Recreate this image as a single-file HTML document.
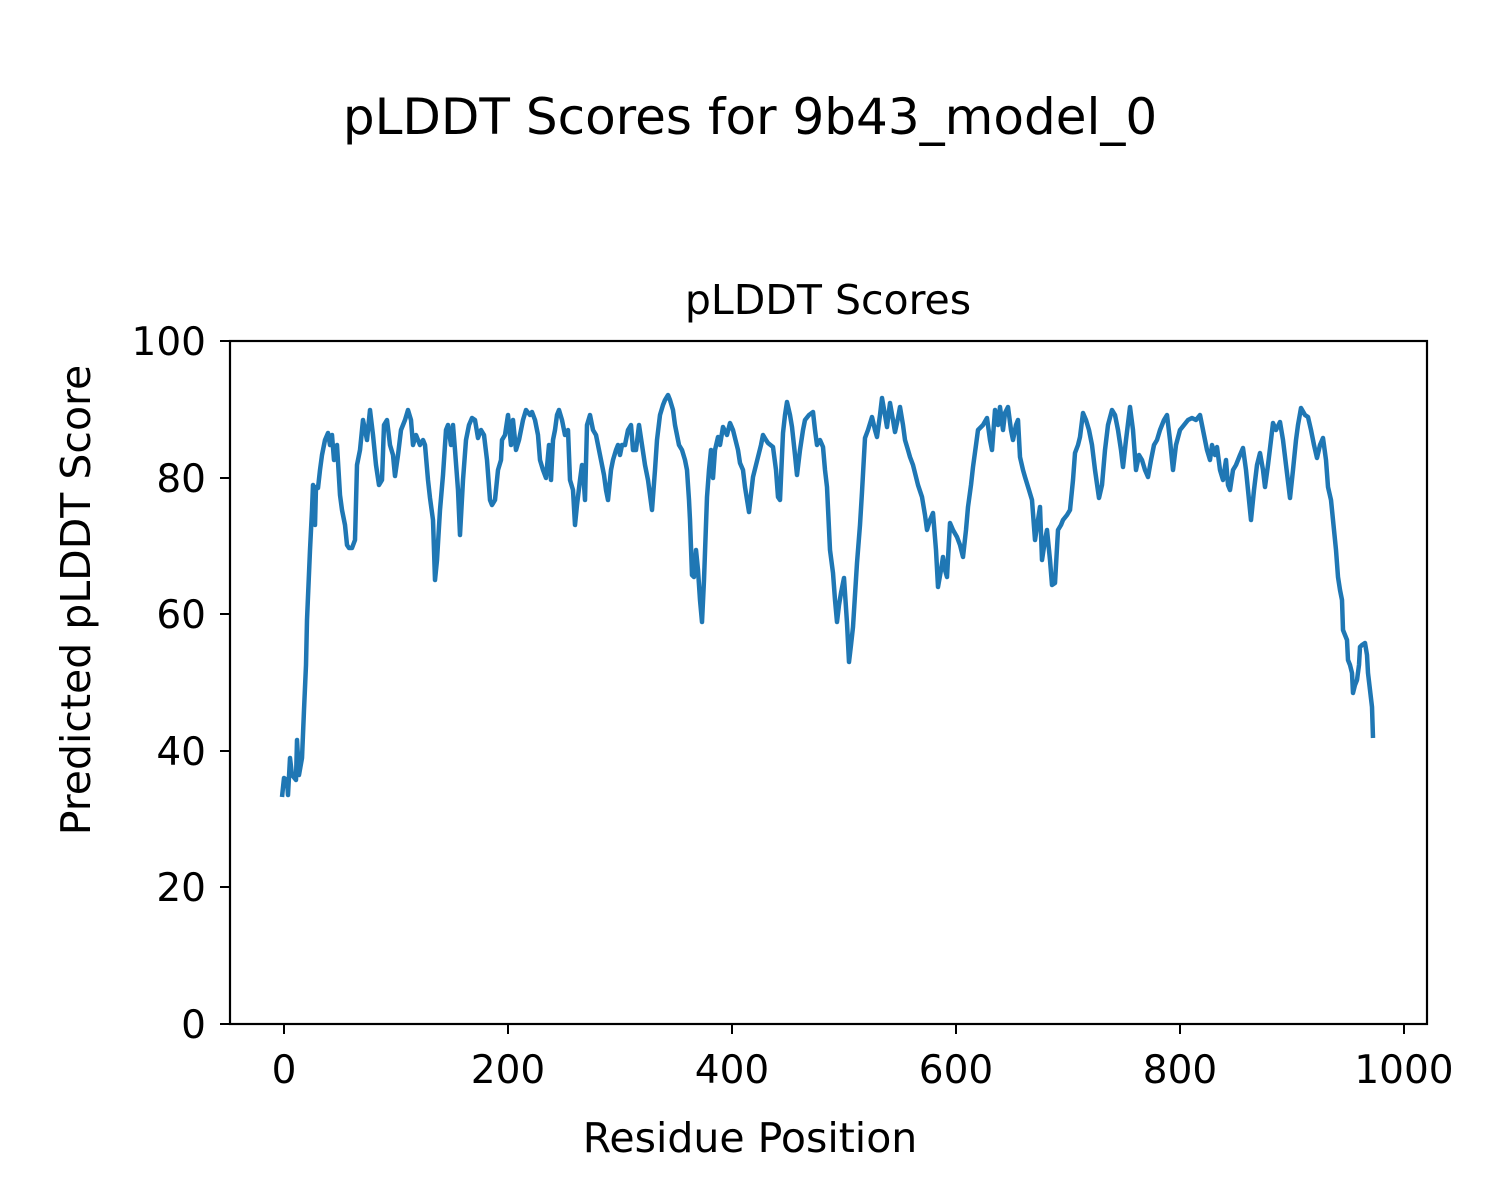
<!DOCTYPE html>
<html><head><meta charset="utf-8"><style>html,body{margin:0;padding:0;background:#fff}svg{display:block}text{font-family:"DejaVu Sans","Liberation Sans",sans-serif;fill:#000}</style></head>
<body>
<svg width="1500" height="1200" viewBox="0 0 1500 1200" xmlns="http://www.w3.org/2000/svg">
<rect width="1500" height="1200" fill="#fff"/>
<text x="750" y="134" font-size="50" text-anchor="middle">pLDDT Scores for 9b43_model_0</text>
<text x="828" y="314" font-size="41" text-anchor="middle">pLDDT Scores</text>
<polyline fill="none" stroke="#1f77b4" stroke-width="4.5" stroke-linejoin="round" points="282,797 284,778 287,780 288,795 290,758 292,775 296,780 297,740 299,775 302,758 304,710 306,665 307,620 310,550 312,510 313,485 315,525 316,487 318,488 320,470 322,455 325,440 328,433 330,445 332,435 334,460 337,445 340,495 342,510 345,525 347,545 349,548 352,548 355,540 357,465 360,450 363,420 367,440 370,410 373,435 376,465 379,485 382,480 384,425 387,420 390,445 393,455 395,476 398,455 401,430 405,420 408,410 411,420 413,445 416,435 418,440 420,445 423,440 425,445 428,480 430,498 433,520 435,580 437,560 440,510 443,475 446,430 448,425 451,445 453,425 455,450 458,490 460,535 463,480 466,440 469,425 472,418 475,420 478,438 481,430 484,435 487,460 490,500 492,505 495,500 498,470 501,460 502,440 505,435 508,415 511,445 513,420 516,450 519,440 521,430 523,420 526,410 530,415 532,412 535,420 538,435 540,460 543,470 546,478 549,445 551,480 553,440 555,430 557,415 559,410 562,420 565,435 568,430 570,480 573,490 575,525 577,505 580,480 582,465 584,485 585,500 587,425 590,415 593,430 596,435 599,450 602,465 604,475 606,490 608,500 611,470 613,460 616,450 618,445 620,455 622,445 625,445 628,430 631,425 633,450 636,450 639,425 642,445 645,465 648,480 650,495 652,510 655,470 657,440 660,415 663,405 665,400 668,395 670,400 673,410 675,425 677,435 679,445 682,450 685,460 687,470 689,500 690,520 692,575 694,577 696,550 698,570 700,600 702,622 704,580 707,497 709,470 711,450 713,478 715,450 718,437 720,445 723,427 727,435 730,423 733,430 735,438 738,450 740,463 743,470 745,487 749,512 753,477 756,465 758,457 761,445 763,435 766,440 768,443 773,447 776,470 778,497 780,500 783,433 785,415 787,402 790,415 792,427 795,455 797,475 800,450 803,430 805,420 809,415 813,412 815,430 817,445 820,440 823,447 825,470 827,487 830,550 833,573 835,600 837,622 839,605 841,593 844,578 847,623 849,662 851,645 853,627 855,595 857,563 860,525 862,492 865,438 868,430 872,417 875,430 877,437 880,415 882,398 885,415 887,427 890,403 893,420 895,432 898,418 900,407 903,425 905,440 908,450 910,457 913,465 915,473 918,485 922,497 925,515 927,530 930,520 933,513 936,550 938,587 941,570 943,557 945,570 947,577 950,523 953,530 957,537 960,545 963,557 966,530 968,507 971,485 973,467 976,445 978,430 983,425 987,418 990,440 992,450 995,410 998,425 1000,407 1003,430 1005,413 1008,407 1011,430 1013,440 1016,425 1018,420 1020,457 1023,470 1025,477 1029,490 1032,500 1035,540 1038,520 1040,507 1042,560 1045,540 1047,530 1050,560 1052,585 1055,583 1058,530 1061,525 1063,520 1067,515 1070,510 1073,480 1075,453 1078,445 1080,437 1083,413 1086,420 1089,430 1092,445 1095,470 1099,498 1102,485 1105,450 1108,425 1112,410 1115,415 1118,430 1121,450 1123,467 1126,440 1130,407 1133,430 1136,470 1139,455 1142,460 1145,470 1148,477 1151,460 1154,445 1157,440 1160,430 1164,420 1167,415 1170,440 1173,470 1176,445 1180,430 1184,425 1188,420 1192,418 1196,420 1200,415 1203,430 1207,450 1210,460 1212,445 1215,455 1217,447 1220,470 1223,480 1226,460 1228,485 1230,490 1233,470 1236,465 1240,455 1243,448 1246,470 1248,490 1251,520 1254,490 1257,465 1260,453 1263,470 1265,487 1268,465 1271,440 1273,423 1276,430 1280,422 1283,440 1286,465 1290,498 1293,470 1296,440 1298,425 1301,408 1305,415 1308,417 1311,430 1314,445 1317,458 1320,445 1323,438 1326,460 1328,487 1331,500 1333,520 1336,550 1338,577 1340,590 1342,600 1343,630 1345,635 1347,640 1348,660 1350,665 1352,673 1353,693 1355,685 1357,680 1359,665 1360,647 1362,645 1365,643 1367,655 1368,673 1370,690 1372,707 1373,738"/>
<rect x="230" y="341" width="1197" height="683" fill="none" stroke="#000" stroke-width="2.2"/>
<g stroke="#000" stroke-width="2">
<line x1="284" y1="1024" x2="284" y2="1034"/><line x1="508" y1="1024" x2="508" y2="1034"/><line x1="732" y1="1024" x2="732" y2="1034"/><line x1="956" y1="1024" x2="956" y2="1034"/><line x1="1180" y1="1024" x2="1180" y2="1034"/><line x1="1404" y1="1024" x2="1404" y2="1034"/>
<line x1="230" y1="1024" x2="220" y2="1024"/><line x1="230" y1="887" x2="220" y2="887"/><line x1="230" y1="751" x2="220" y2="751"/><line x1="230" y1="614" x2="220" y2="614"/><line x1="230" y1="478" x2="220" y2="478"/><line x1="230" y1="341" x2="220" y2="341"/>
</g>
<g font-size="39" text-anchor="middle">
<text x="284" y="1083">0</text><text x="508" y="1083">200</text><text x="732" y="1083">400</text><text x="956" y="1083">600</text><text x="1180" y="1083">800</text><text x="1404" y="1083">1000</text>
</g>
<g font-size="39" text-anchor="end">
<text x="206" y="1038">0</text><text x="206" y="901">20</text><text x="206" y="765">40</text><text x="206" y="628">60</text><text x="206" y="492">80</text><text x="206" y="355">100</text>
</g>
<text x="750" y="1152" font-size="41" text-anchor="middle">Residue Position</text>
<text x="0" y="0" font-size="41" text-anchor="middle" transform="translate(90,600) rotate(-90)">Predicted pLDDT Score</text>
</svg>
</body></html>
